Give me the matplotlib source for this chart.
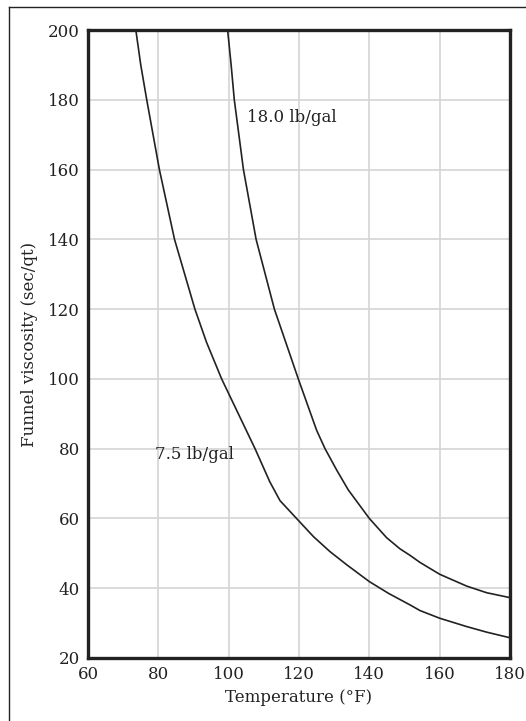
import matplotlib
matplotlib.use("Agg")
import matplotlib.pyplot as plt
from matplotlib.lines import Line2D

# values
temp_75 = [73.6, 75.0, 76.7, 80.3, 84.6, 90.4, 93.7, 98.0, 102.7, 107.5, 111.7, 114.6,
           119.3, 124.1, 128.8, 133.6, 140.0, 145.5, 151.6, 154.4, 160.0, 167.7, 173.4, 180.0]
visc_75 = [200, 190, 180, 160, 140, 120, 110.5, 100, 90.1, 80, 70.5, 65.1,
           60, 54.8, 50.5, 46.7, 41.9, 38.5, 35.2, 33.6, 31.4, 29.0, 27.4, 25.8]

temp_180 = [99.7, 100.7, 101.6, 104.2, 107.8, 113.0, 119.8, 125.0, 127.4, 130.7, 134.0, 140.0,
            144.9, 148.7, 151.6, 154.4, 160.0, 167.7, 173.4, 180.0]
visc_180 = [200, 190, 180, 160, 140, 120, 100, 85.3, 80, 73.9, 68.2, 60,
            54.5, 51.3, 49.4, 47.4, 44.0, 40.6, 38.7, 37.3]

x_ticks = [60, 80, 100, 120, 140, 160, 180]
y_ticks = [20, 40, 60, 80, 100, 120, 140, 160, 180, 200]

plt.rcParams['font.family'] = ['DejaVu Serif']
ink = '#222222'

fig = plt.figure(figsize=(5.26, 7.21), dpi=100)
ax = fig.add_axes([88 / 526, 1 - 658 / 721, 422 / 526, 628 / 721])

ax.plot(temp_75, visc_75, color=ink, lw=1.2, solid_joinstyle='round', zorder=3)
ax.plot(temp_180, visc_180, color=ink, lw=1.2, solid_joinstyle='round', zorder=3)

ax.set_xlim(60, 180)
ax.set_ylim(20, 200)
ax.set_xticks(x_ticks)
ax.set_yticks(y_ticks)
ax.grid(True, color='#d4d4d4', lw=1.2, zorder=0)
ax.set_axisbelow(True)
ax.tick_params(length=0, labelsize=12, colors=ink, pad=6)
for s in ax.spines.values():
    s.set_linewidth(2.4)
    s.set_color(ink)

ax.set_xlabel('Temperature (°F)', fontsize=12, color=ink, labelpad=4)
ax.set_ylabel('Funnel viscosity (sec/qt)', fontsize=12, color=ink, labelpad=7)

ax.text(105.2, 174.8, '18.0 lb/gal', fontsize=12, color=ink, va='center', ha='left')
ax.text(79.0, 78.2, '7.5 lb/gal', fontsize=12, color=ink, va='center', ha='left')

# thin outer frame (left and top edges visible)
fig.add_artist(Line2D([9 / 526, 9 / 526], [1 - 7 / 721, -0.01], color=ink, lw=1.0))
fig.add_artist(Line2D([9 / 526, 1.01], [1 - 7 / 721, 1 - 7 / 721], color=ink, lw=1.0))

fig.savefig('out.png', dpi=100)
